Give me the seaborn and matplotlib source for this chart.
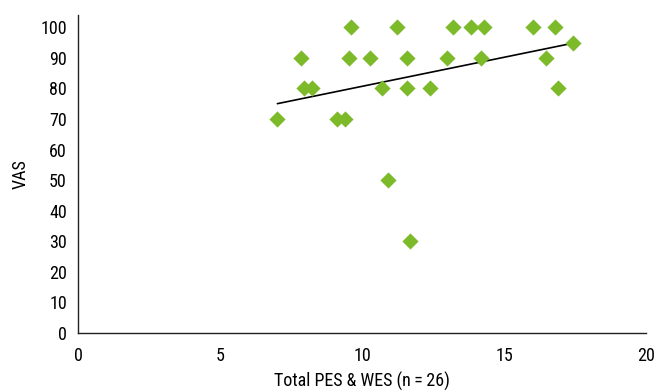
import numpy as np
import pandas as pd
import matplotlib
matplotlib.use('Agg')
import matplotlib.pyplot as plt
import seaborn as sns

# total PES & WES score vs VAS for the 26 patients
pes_wes = [9.62, 11.22, 13.19, 13.85, 14.31, 16.02, 16.80,
           17.43,
           7.86, 9.54, 10.27, 11.60, 12.99, 14.19, 16.47,
           7.96, 8.25, 10.70, 11.59, 12.41, 16.91,
           7.02, 9.12, 9.40,
           10.90,
           11.70]
vas = [100, 100, 100, 100, 100, 100, 100,
       95,
       90, 90, 90, 90, 90, 90, 90,
       80, 80, 80, 80, 80, 80,
       70, 70, 70,
       50,
       30]
x_ticks = [0, 5, 10, 15, 20]
y_ticks = list(range(0, 101, 10))

df = pd.DataFrame({'PES_WES': pes_wes, 'VAS': vas})

sns.set_theme(style='white')
plt.rcParams['font.family'] = ['Liberation Sans Narrow', 'Roboto Condensed', 'DejaVu Sans']

fig = plt.figure(figsize=(6.57, 3.91), dpi=100)
ax = fig.add_axes([0.1187, 0.1483, 0.8646, 0.8133])

sns.regplot(x='PES_WES', y='VAS', data=df, ax=ax, ci=None, marker='D',
            scatter_kws={'color': '#7dba2a', 's': 68, 'linewidths': 0, 'alpha': 1, 'zorder': 3},
            line_kws={'color': 'black', 'linewidth': 1.2, 'zorder': 2})

ax.set_xlim(0, 20)
ax.set_ylim(0, 104)
ax.set_xticks(x_ticks)
ax.set_yticks(y_ticks)
ax.set_xlabel('Total PES & WES (n\u2009=\u200926)', fontsize=13, color='black', labelpad=5)
ax.set_ylabel('VAS', fontsize=13, color='black', labelpad=8)
ax.tick_params(axis='both', direction='in', length=7, width=1, color='#333333',
               labelsize=13, labelcolor='black')
ax.tick_params(axis='y', pad=8)
ax.tick_params(axis='x', pad=10)
sns.despine(ax=ax)
for s in ['left', 'bottom']:
    ax.spines[s].set_color('#222222')
    ax.spines[s].set_linewidth(1)

fig.savefig('out.png', dpi=100)
